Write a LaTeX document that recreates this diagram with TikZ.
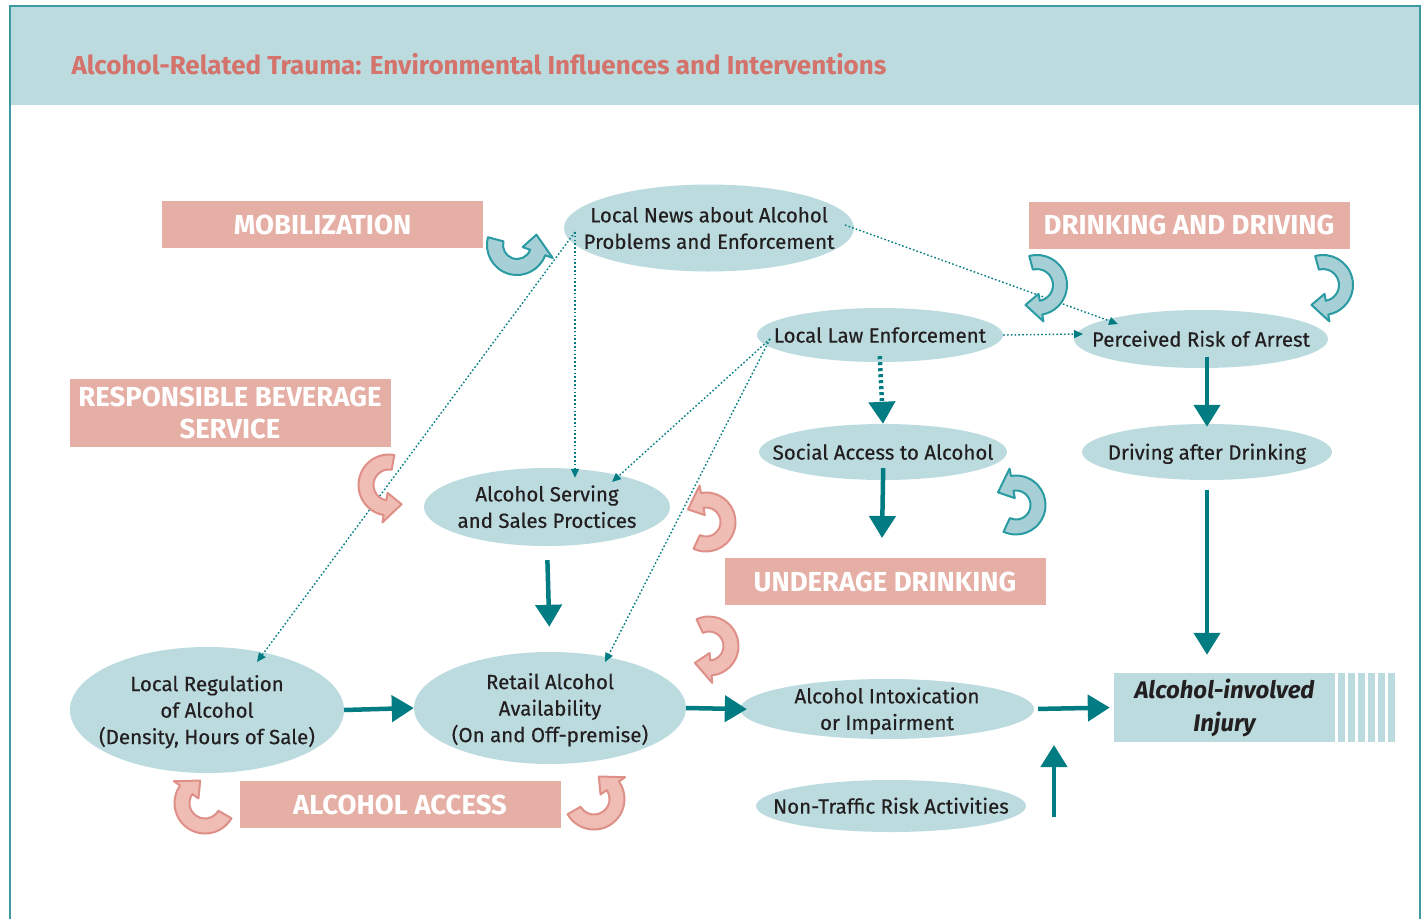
\documentclass[tikz,border=0pt]{standalone}
\usepackage{fontspec}
\setmainfont{Fira Sans}
\newfontfamily\medfont{Fira Sans}[FakeBold=0.4]
\usetikzlibrary{shapes.geometric,arrows.meta,calc}
\definecolor{band}{HTML}{BCDBDF}
\definecolor{framec}{HTML}{3A9AA0}
\definecolor{tealc}{HTML}{007C82}
\definecolor{pinkbox}{HTML}{E6AFA5}
\definecolor{titlec}{HTML}{D4736B}
\definecolor{txt}{HTML}{231F20}
\definecolor{cvtealfill}{HTML}{A6D0D6}
\definecolor{cvtealline}{HTML}{2A9AA3}
\definecolor{cvpinkfill}{HTML}{F0BDB4}
\definecolor{cvpinkline}{HTML}{DE8F87}
\newcommand\ztx[1]{\makebox[0pt]{\raisebox{-7.5pt}[0pt][0pt]{\begin{tabular}{@{}c@{}}#1\end{tabular}}}}
\newcommand\bentarr[7]{%
 \pgfmathsetmacro\bRo{#3+#6/2}%
 \pgfmathsetmacro\bRi{#3-#6/2}%
 \pgfmathsetmacro\bRb{#3+#6}%
 \pgfmathsetmacro\bRc{#3-#6}%
 \pgfmathsetmacro\bSg{sign(#5-#4)}%
 \pgfmathsetmacro\bAt{#5+\bSg*1.15*#6/#3*57.2958}%
 \draw[#7] ($(#1,#2)+(#4:\bRo)$) arc[start angle=#4,end angle=#5,radius=\bRo]
   -- ($(#1,#2)+(#5:\bRb)$) -- ($(#1,#2)+(\bAt:#3)$) -- ($(#1,#2)+(#5:\bRc)$)
   -- ($(#1,#2)+(#5:\bRi)$) arc[start angle=#5,end angle=#4,radius=\bRi] -- cycle;}
\tikzset{
  ell/.style={ellipse, fill=band, inner sep=0pt, text=txt,
    font=\fontsize{20.5}{26.5}\selectfont\medfont},
  pbox/.style={rectangle, fill=pinkbox, inner sep=0pt, align=center, text=white,
    minimum width=321pt, minimum height=47pt, font=\fontsize{27.5}{32}\selectfont\bfseries},
  dotarr/.style={tealc, line width=1.4pt, dash pattern=on 1.6pt off 2.2pt,
    -{Triangle[length=9pt,width=8pt]}},
  bigarr/.style={tealc, line width=4.5pt, -{Triangle[length=22pt,width=26pt]}},
  cvteal/.style={fill=cvtealfill, draw=cvtealline, line width=2pt, line join=round},
  cvpink/.style={fill=cvpinkfill, draw=cvpinkline, line width=2pt, line join=round},
}
\begin{document}
\begin{tikzpicture}[x=1pt,y=-1pt]
\useasboundingbox (0,0) rectangle (1428,919);
% frame and header
\fill[band] (10,6) rectangle (1420,105);
\draw[framec, line width=2pt] (10,919) -- (10,6) -- (1420,6) -- (1420,919);
\node[anchor=west, text=titlec, font=\fontsize{26}{30}\selectfont\bfseries] (title) at (68,64)
  {Alcohol-Related Trauma: Environmental Influences and Interventions};

% pink labels
\node[pbox] (mob) at (322.5,224.5) {MOBILIZATION};
\node[pbox] (dd) at (1189,225) {DRINKING AND DRIVING};
\node[pbox, minimum height=68pt] (rbs) at (230,413) {RESPONSIBLE BEVERAGE\\SERVICE};
\node[pbox] (ud) at (885,581.5) {UNDERAGE DRINKING};
\node[pbox] (acc) at (400,804.5) {ALCOHOL ACCESS};

% ellipses
\node[ell, minimum width=290pt, minimum height=87pt] (news) at (709,228) {\ztx{Local News about Alcohol\\Problems and Enforcement}};
\node[ell, minimum width=246pt, minimum height=54pt] (law) at (880,335) {\ztx{Local Law Enforcement}};
\node[ell, minimum width=254pt, minimum height=58pt] (risk) at (1201,339) {\ztx{Perceived Risk of Arrest}};
\node[ell, minimum width=248pt, minimum height=56pt] (social) at (883,452) {\ztx{Social Access to Alcohol}};
\node[ell, minimum width=250pt, minimum height=56pt] (drive) at (1207,452) {\ztx{Driving after Drinking}};
\node[ell, minimum width=246pt, minimum height=78pt] (serving) at (547,507) {\ztx{Alcohol Serving\\and Sales Proctices}};
\node[ell, minimum width=274pt, minimum height=126pt] (locreg) at (207,710) {\ztx{Local Regulation\\of Alcohol\\(Density, Hours of Sale)}};
\node[ell, minimum width=272pt, minimum height=112pt] (retail) at (550,708) {\ztx{Retail Alcohol\\Availability\\(On and Off-premise)}};
\node[ell, minimum width=294pt, minimum height=60pt] (intox) at (887,709) {\ztx{Alcohol Intoxication\\or Impairment}};
\node[ell, minimum width=270pt, minimum height=52pt] (nontr) at (891,806) {\ztx{Non-Traffic Risk Activities}};

% injury box with stripes
\foreach \sx in {1338,1348,1358,1368,1378,1388}
  \fill[band] (\sx,673) rectangle ++(7,69);
\node[rectangle, fill=band, minimum width=221pt, minimum height=69pt, inner sep=0pt, align=center,
  text=txt, font=\fontsize{24}{33}\selectfont\bfseries\itshape] (injury) at (1224.5,707.5)
  {Alcohol-involved\\Injury};

% dotted connectors
\coordinate (nsrc) at ($(news.center)+(-134,4)$);
\coordinate (lsrc) at ($(law.center)+(-110,4)$);
\draw[dotarr] (nsrc) -- ($(locreg.center)+(50,-48)$);
\draw[dotarr] (nsrc) -- ($(nsrc |- serving.north)+(0,10)$);
\draw[dotarr] ($(news.center)+(136,-3)$) -- ($(risk.center)+(-83,-15)$);
\draw[dotarr] (law.east) -- ($(risk.center)+(-118,-5)$);
\draw[dotarr] (lsrc) -- ($(serving.center)+(65,-25)$);
\draw[dotarr] (lsrc) -- ($(retail.center)+(55,-46)$);

% thick connectors
\draw[bigarr, shorten <=14pt, shorten >=25pt] (serving.south) -- (retail.north);
\draw[bigarr] (locreg.east) -- (retail.west);
\draw[bigarr, shorten >=-7pt] (retail.east) -- (intox.west);
\draw[bigarr, shorten <=4pt, shorten >=4pt] (intox.east) -- (injury.west);
\coordinate (ntlow) at (1054,817);
\coordinate (nthigh) at (1054,745);
\draw[bigarr] (ntlow) -- (nthigh);
\draw[bigarr, dash pattern=on 3pt off 3pt, shorten <=-6pt] (law.south) -- (social.north);
\coordinate (udtop) at (882,538);
\draw[bigarr, shorten <=-12pt] (social.south) -- (udtop);
\draw[bigarr, shorten <=-11pt, shorten >=-3pt] (drive.north |- risk.south) -- (drive.north);
\draw[bigarr, shorten <=10pt, shorten >=18pt] (drive.south) -- (drive.south |- injury.north);

% curved block arrows
\bentarr{517}{245}{22}{195}{20}{16}{cvteal}
\bentarr{1037}{285}{23}{-105}{80}{14}{cvteal}
\bentarr{1323}{285}{23}{-105}{80}{14}{cvteal}
\bentarr{389}{485}{23}{-80}{-260}{15}{cvpink}
\bentarr{706}{522}{22}{115}{-100}{15}{cvpink}
\bentarr{1016}{505}{22}{115}{-100}{15}{cvteal}
\bentarr{709}{646}{22}{-115}{85}{15}{cvpink}
\bentarr{205}{803}{23}{30}{215}{15}{cvpink}
\bentarr{594}{799}{23}{150}{-35}{15}{cvpink}
\end{tikzpicture}
\end{document}
